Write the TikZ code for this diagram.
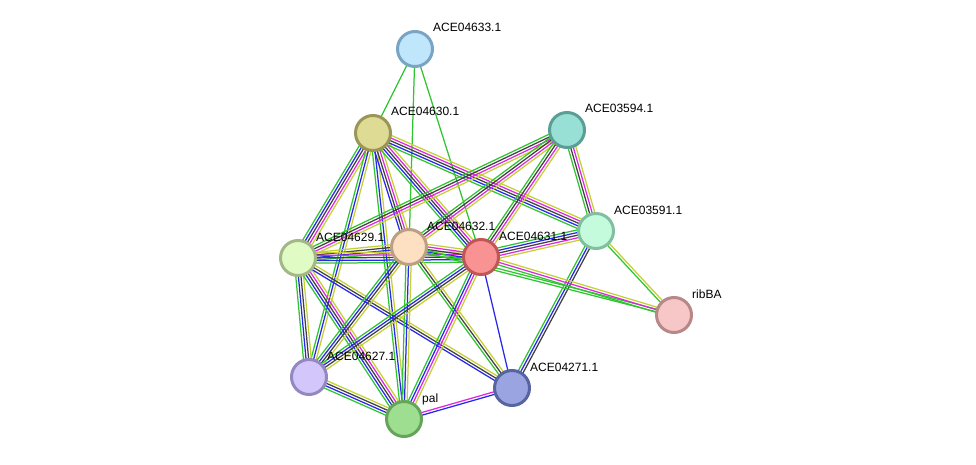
\documentclass[tikz,border=0pt]{standalone}
\usepackage{fontspec}
\setmainfont{Liberation Sans}
\usetikzlibrary{calc}
\pgfdeclarelayer{edges}
\pgfsetlayers{edges,main}

\definecolor{lkg}{RGB}{48,196,48}
\definecolor{lkb}{RGB}{40,40,235}
\definecolor{lkk}{RGB}{64,64,64}
\definecolor{lkm}{RGB}{222,40,222}
\definecolor{lky}{RGB}{196,208,52}

% bundle of parallel evidence lines between two proteins
\newcommand{\plink}[3]{%
  \begin{pgfonlayer}{edges}
  \foreach \cc [count=\kk] in {#3}{\global\let\nlines\kk}
  \foreach \cc [count=\ii] in {#3}{%
    \pgfmathsetmacro\off{(\ii-(\nlines+1)/2)*2.6}
    \draw[\cc, line width=1.25pt] ($(#1.center)!\off pt!90:(#2.center)$) -- ($(#2.center)!\off pt!-90:(#1.center)$);
  }
  \end{pgfonlayer}}

\begin{document}
\begin{tikzpicture}[x=1pt, y=-1pt,
  prot/.style={circle, line width=3pt, minimum size=35pt, inner sep=0pt},
  lbl/.style={anchor=base west, font=\fontsize{12}{14}\selectfont, inner sep=0pt}
]
\useasboundingbox (0,0) rectangle (976,465);

\node[prot, draw={rgb,255:red,122;green,164;blue,196}, fill={rgb,255:red,192;green,230;blue,251}] (n633) at (415,49) {};
\node[prot, draw={rgb,255:red,154;green,150;blue,86}, fill={rgb,255:red,222;green,219;blue,149}] (n630) at (373,133) {};
\node[prot, draw={rgb,255:red,91;green,158;blue,148}, fill={rgb,255:red,152;green,224;blue,214}] (n594) at (567,130) {};
\node[prot, draw={rgb,255:red,128;green,192;blue,160}, fill={rgb,255:red,196;green,251;blue,220}] (n591) at (596,231) {};
\node[prot, draw={rgb,255:red,163;green,184;blue,135}, fill={rgb,255:red,224;green,252;blue,196}] (n629) at (298,258) {};
\node[prot, draw={rgb,255:red,187;green,160;blue,132}, fill={rgb,255:red,253;green,223;blue,194}] (n632) at (409,247) {};
\node[prot, draw={rgb,255:red,192;green,86;blue,86}, fill={rgb,255:red,249;green,147;blue,147}] (n631) at (481,257) {};
\node[prot, draw={rgb,255:red,184;green,135;blue,135}, fill={rgb,255:red,247;green,198;blue,198}] (nrib) at (674,315) {};
\node[prot, draw={rgb,255:red,148;green,136;blue,192}, fill={rgb,255:red,211;green,198;blue,251}] (n627) at (309,377) {};
\node[prot, draw={rgb,255:red,86;green,100;blue,160}, fill={rgb,255:red,154;green,164;blue,224}] (n271) at (512,388) {};
\node[prot, draw={rgb,255:red,101;green,165;blue,90}, fill={rgb,255:red,158;green,222;blue,144}] (npal) at (404,419) {};

\node[lbl] (l633) at ($(n633.center)+(18,-17)$) {ACE04633.1};
\node[lbl] (l630) at ($(n630.center)+(18,-17)$) {ACE04630.1};
\node[lbl] (l594) at ($(n594.center)+(18,-17)$) {ACE03594.1};
\node[lbl] (l591) at ($(n591.center)+(18,-17)$) {ACE03591.1};
\node[lbl] (l629) at ($(n629.center)+(18,-17)$) {ACE04629.1};
\node[lbl] (l632) at ($(n632.center)+(18,-17)$) {ACE04632.1};
\node[lbl] (l631) at ($(n631.center)+(18,-17)$) {ACE04631.1};
\node[lbl] (lrib) at ($(nrib.center)+(18,-17)$) {ribBA};
\node[lbl] (l627) at ($(n627.center)+(18,-17)$) {ACE04627.1};
\node[lbl] (l271) at ($(n271.center)+(18,-17)$) {ACE04271.1};
\node[lbl] (lpal) at ($(npal.center)+(18,-17)$) {pal};

\plink{n633}{n630}{lkg}
\plink{n633}{n632}{lkg}
\plink{n633}{n631}{lkg}
\plink{n630}{n629}{lkg,lkb,lkk,lkm,lky}
\plink{n630}{n627}{lkg,lkb,lky}
\plink{n630}{npal}{lkg,lkb,lky}
\plink{n630}{n632}{lkb,lkk,lkm,lky}
\plink{n630}{n631}{lkg,lkb,lkk,lkm,lky}
\plink{n630}{n591}{lkg,lkb,lkk,lkm,lky}
\plink{n594}{n629}{lkg,lkk,lkm,lky}
\plink{n594}{n632}{lkg,lkk,lkm,lky}
\plink{n594}{n631}{lkg,lkk,lkm,lky}
\plink{n594}{n591}{lkg,lkk,lkm,lky}
\plink{n591}{n631}{lkg,lkb,lkk,lkm,lky}
\plink{n591}{nrib}{lkg,lky}
\plink{n591}{n271}{lkg,lkb,lkk}
\plink{n629}{n632}{lkg,lkb,lkk,lky}
\plink{n629}{n631}{lkg,lkb,lkk,lkm,lky}
\plink{n629}{n627}{lkg,lkb,lkk,lky}
\plink{n629}{npal}{lkg,lkb,lkk,lkm,lky}
\plink{n629}{n271}{lkb,lkk,lky}
\plink{n632}{n627}{lkg,lkb,lkk,lky}
\plink{n632}{npal}{lkg,lkb,lky}
\plink{n632}{n271}{lkg,lkk,lky}
\plink{n632}{n631}{lkg,lkb,lkk,lkm,lky}
\plink{n632}{nrib}{lkg,lkg}
\plink{n631}{n627}{lkg,lkb,lkk,lky}
\plink{n631}{npal}{lkg,lkb,lkm,lky}
\plink{n631}{n271}{lkb}
\plink{n631}{nrib}{lkg,lkm,lky}
\plink{n627}{npal}{lkg,lkb,lkk,lky}
\plink{npal}{n271}{lkb,lkm}

\end{tikzpicture}
\end{document}
